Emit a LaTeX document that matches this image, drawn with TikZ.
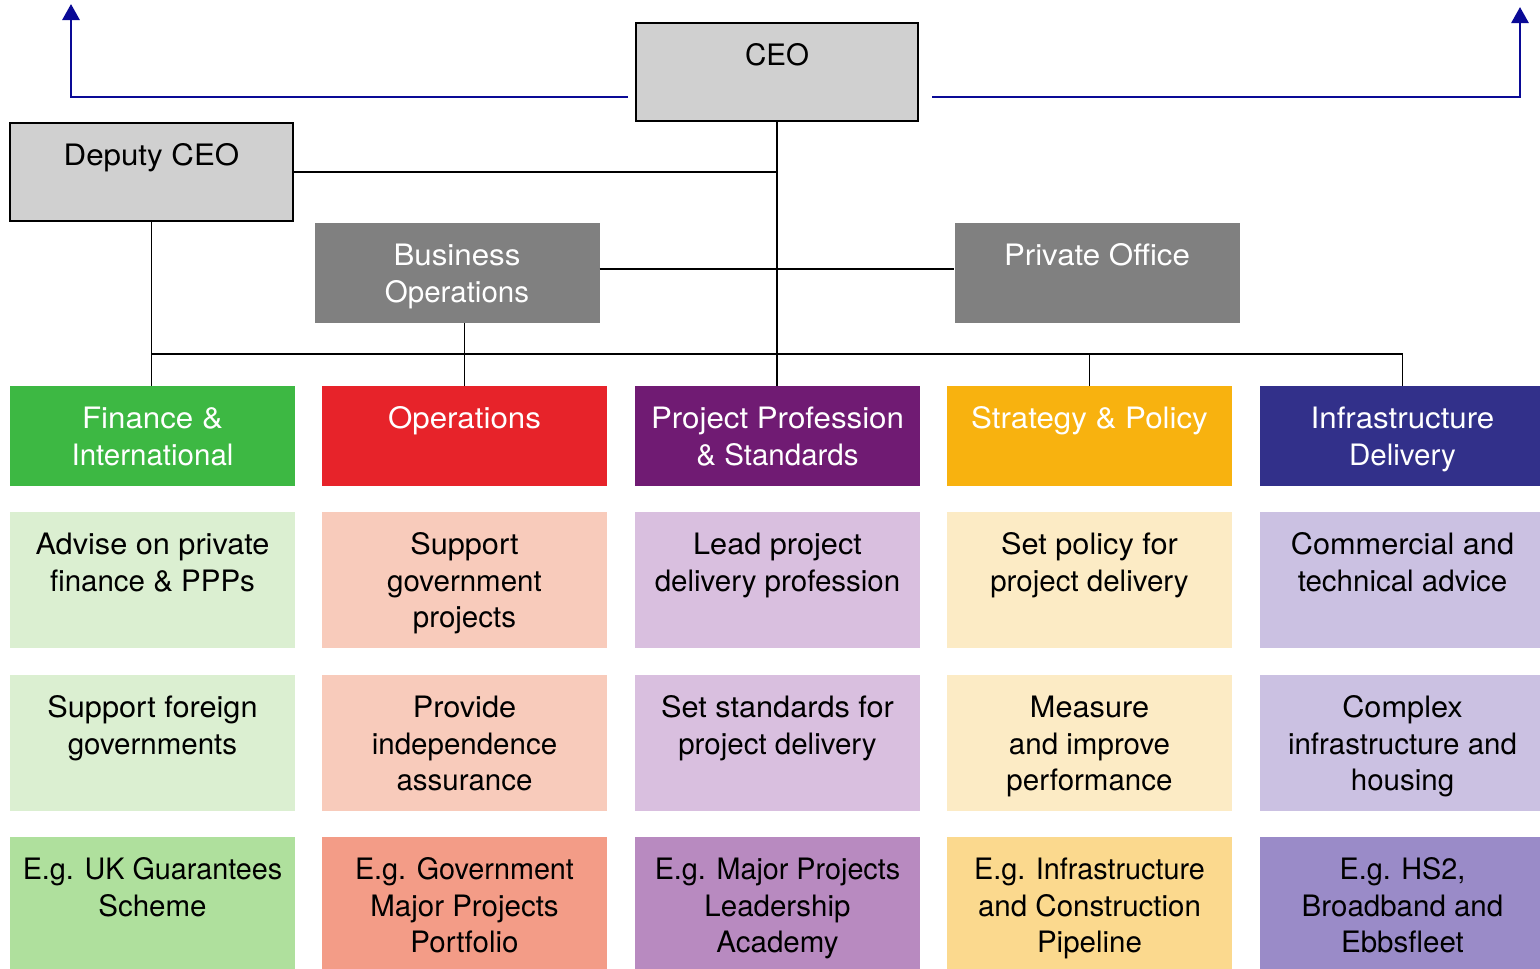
\documentclass[tikz,border=0pt]{standalone}
\usepackage{fontspec}
\setmainfont{TeX Gyre Heros}
\newfontfamily\hdfont[FakeStretch=1.06]{TeX Gyre Heros}
\newfontfamily\bodyfont[FakeStretch=1.04]{TeX Gyre Heros}
\newfontfamily\egfont[FakeStretch=0.975]{TeX Gyre Heros}
\usetikzlibrary{arrows.meta,calc}
\definecolor{ceogrey}{HTML}{D0D0D0}
\definecolor{opsgrey}{HTML}{808080}
\definecolor{blueline}{HTML}{0A0A96}
\definecolor{gH}{HTML}{3DB843}\definecolor{gL}{HTML}{DBEFD1}\definecolor{gE}{HTML}{AFE09D}
\definecolor{rH}{HTML}{E7232A}\definecolor{rL}{HTML}{F8CBBB}\definecolor{rE}{HTML}{F39C87}
\definecolor{pH}{HTML}{701B73}\definecolor{pL}{HTML}{D9BFDF}\definecolor{pE}{HTML}{B88AC0}
\definecolor{oH}{HTML}{F8B20F}\definecolor{oL}{HTML}{FCEBC5}\definecolor{oE}{HTML}{FBD98E}
\definecolor{nH}{HTML}{32308A}\definecolor{nL}{HTML}{CBC1E2}\definecolor{nE}{HTML}{9A8BC8}
\tikzset{
  boxshape/.style={rectangle, inner sep=0pt, minimum width=285pt},
  txt/.style={anchor=north, inner sep=0pt, align=center,
    font=\fontsize{29.5}{36.5}\selectfont},
  conn/.style={draw=black, line width=1.4pt},
  bluearrow/.style={draw=blueline, line width=2.8pt,
    -{Triangle[width=17pt,length=16pt]}},
}
% #1 name, #2 cx, #3 top, #4 height, #5 fill, #6 text colour, #7 font, #8 text
\newcommand\cellbox[8]{%
  \node[boxshape, fill=#5, minimum height=#4pt] (#1) at (#2,#3+#4/2) {};
  \node[txt, text=#6] (#1t) at ([yshift=-20.6pt]#1.north) {#7\rule{0pt}{22pt}#8};
}
\begin{document}
\begin{tikzpicture}[x=1pt,y=-1pt]
\useasboundingbox (0,0) rectangle (1540,969);
% top boxes
\node[rectangle, inner sep=0pt, draw=black, line width=1.2pt, fill=ceogrey,
  minimum width=282pt, minimum height=98pt] (ceo) at (777,72) {};
\node[txt] (ceot) at ([yshift=-20.6pt]ceo.north) {\rule{0pt}{22pt}CEO};
\node[rectangle, inner sep=0pt, draw=black, line width=1.2pt, fill=ceogrey,
  minimum width=283pt, minimum height=98pt] (dep) at (151.5,172) {};
\node[txt] (dept) at ([yshift=-20.6pt]dep.north) {\hdfont\rule{0pt}{22pt}Deputy CEO};
\cellbox{biz}{457}{223}{100}{opsgrey}{white}{\hdfont}{Business\\Operations}
\cellbox{priv}{1097}{223}{100}{opsgrey}{white}{\hdfont}{Private Office}
% column headers
\cellbox{h1}{152.5}{386}{100}{gH}{white}{\hdfont}{Finance \&\\International}
\cellbox{h2}{464.5}{386}{100}{rH}{white}{\hdfont}{Operations}
\cellbox{h3}{777.5}{386}{100}{pH}{white}{\hdfont}{Project Profession\\\& Standards}
\cellbox{h4}{1089.5}{386}{100}{oH}{white}{\hdfont}{Strategy \& Policy}
\cellbox{h5}{1402.5}{386}{100}{nH}{white}{\hdfont}{Infrastructure\\Delivery}
% row 1
\cellbox{a1}{152.5}{512}{136}{gL}{black}{\bodyfont}{Advise on private\\finance \& PPPs}
\cellbox{a2}{464.5}{512}{136}{rL}{black}{\bodyfont}{Support\\government\\projects}
\cellbox{a3}{777.5}{512}{136}{pL}{black}{\bodyfont}{Lead project\\delivery profession}
\cellbox{a4}{1089.5}{512}{136}{oL}{black}{\bodyfont}{Set policy for\\project delivery}
\cellbox{a5}{1402.5}{512}{136}{nL}{black}{\bodyfont}{Commercial and\\technical advice}
% row 2
\cellbox{b1}{152.5}{675}{136}{gL}{black}{\bodyfont}{Support foreign\\governments}
\cellbox{b2}{464.5}{675}{136}{rL}{black}{\bodyfont}{Provide\\independence\\assurance}
\cellbox{b3}{777.5}{675}{136}{pL}{black}{\bodyfont}{Set standards for\\project delivery}
\cellbox{b4}{1089.5}{675}{136}{oL}{black}{\bodyfont}{Measure\\and improve\\performance}
\cellbox{b5}{1402.5}{675}{136}{nL}{black}{\bodyfont}{Complex\\infrastructure and\\housing}
% row 3
\cellbox{c1}{152.5}{837}{132}{gE}{black}{\egfont}{E.g. UK Guarantees\\Scheme}
\cellbox{c2}{464.5}{837}{132}{rE}{black}{\egfont}{E.g. Government\\Major Projects\\Portfolio}
\cellbox{c3}{777.5}{837}{132}{pE}{black}{\egfont}{E.g. Major Projects\\Leadership\\Academy}
\cellbox{c4}{1089.5}{837}{132}{oE}{black}{\egfont}{E.g. Infrastructure\\and Construction\\Pipeline}
\cellbox{c5}{1402.5}{837}{132}{nE}{black}{\egfont}{E.g. HS2,\\Broadband and\\Ebbsfleet}
% connectors
\coordinate (barL) at (152,354);
\coordinate (barR) at (1402.5,354);
\draw[conn] (ceo.south) -- (ceo.south |- h3.north);
\draw[conn] (dep.east) -- (dep.east -| ceo.south);
\draw[conn] ([yshift=4pt]biz.east) -- ([yshift=4pt]priv.west);
\draw[conn] (dep.south) -- (dep.south |- h1.north);
\draw[conn] (barL) -- (barR);
\draw[conn] (barR) -- (h5.north);
\draw[conn] (h4.north |- barL) -- (h4.north);
\draw[conn] (h2.north |- biz.south) -- (h2.north);
% blue arrows
\coordinate (lstart) at (628,97);
\coordinate (lcorner) at (71,97);
\coordinate (lend) at (71,4);
\coordinate (rstart) at (932,97);
\coordinate (rcorner) at (1520,97);
\coordinate (rend) at (1520,7);
\draw[bluearrow] (lstart) -- (lcorner) -- (lend);
\draw[bluearrow] (rstart) -- (rcorner) -- (rend);
\end{tikzpicture}
\end{document}
